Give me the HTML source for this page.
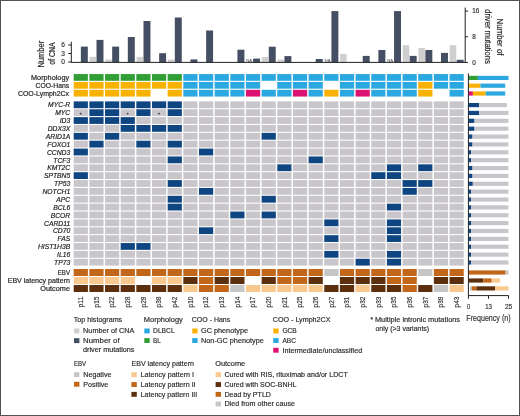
<!DOCTYPE html>
<html><head><meta charset="utf-8"><style>
html,body{margin:0;padding:0;background:#fff;}
body{width:520px;height:416px;overflow:hidden;}
#f{position:absolute;left:0;top:0;width:520px;height:416px;box-sizing:border-box;border:1px solid #535353;}
svg{position:absolute;left:0;top:0;font-family:"Liberation Sans", sans-serif;will-change:transform;}
text{stroke:#2b2b2b;stroke-width:0.16px;}
text.lb{stroke:#222;stroke-width:0.18px;}
</style></head><body>
<div id="f"></div>
<svg width="520" height="416" viewBox="0 0 520 416">
<rect x="80.85" y="46.60" width="6.95" height="15.80" fill="#444f63"/>
<rect x="89.56" y="56.80" width="6.50" height="5.60" fill="#cfcfcf"/>
<rect x="96.51" y="39.90" width="6.95" height="22.50" fill="#444f63"/>
<rect x="105.22" y="59.60" width="6.50" height="2.80" fill="#cfcfcf"/>
<rect x="112.17" y="46.60" width="6.95" height="15.80" fill="#444f63"/>
<rect x="127.83" y="37.00" width="6.95" height="25.40" fill="#444f63"/>
<rect x="136.54" y="56.80" width="6.50" height="5.60" fill="#cfcfcf"/>
<rect x="143.49" y="21.00" width="6.95" height="41.40" fill="#444f63"/>
<rect x="159.15" y="53.20" width="6.95" height="9.20" fill="#444f63"/>
<rect x="167.86" y="59.50" width="6.50" height="2.90" fill="#cfcfcf"/>
<rect x="174.81" y="17.50" width="6.95" height="44.90" fill="#444f63"/>
<rect x="190.47" y="59.40" width="6.95" height="3.00" fill="#444f63"/>
<rect x="206.13" y="30.50" width="6.95" height="31.90" fill="#444f63"/>
<rect x="237.45" y="49.70" width="6.95" height="12.70" fill="#444f63"/>
<rect x="253.11" y="58.60" width="6.95" height="3.80" fill="#444f63"/>
<text x="249.26" y="61.50" font-size="4.4" text-anchor="middle" fill="#444" textLength="6.00" lengthAdjust="spacingAndGlyphs"  style="stroke-width:0px">NA</text>
<rect x="261.82" y="57.00" width="6.50" height="5.40" fill="#cfcfcf"/>
<rect x="268.77" y="46.70" width="6.95" height="15.70" fill="#444f63"/>
<rect x="277.48" y="59.60" width="6.50" height="2.80" fill="#cfcfcf"/>
<rect x="284.43" y="56.10" width="6.95" height="6.30" fill="#444f63"/>
<rect x="315.75" y="59.00" width="6.95" height="3.40" fill="#444f63"/>
<rect x="331.41" y="11.10" width="6.95" height="51.30" fill="#444f63"/>
<text x="327.56" y="61.50" font-size="4.4" text-anchor="middle" fill="#444" textLength="6.00" lengthAdjust="spacingAndGlyphs"  style="stroke-width:0px">NA</text>
<rect x="340.12" y="54.00" width="6.50" height="8.40" fill="#cfcfcf"/>
<rect x="362.73" y="55.90" width="6.95" height="6.50" fill="#444f63"/>
<rect x="378.39" y="50.00" width="6.95" height="12.40" fill="#444f63"/>
<rect x="394.05" y="11.10" width="6.95" height="51.30" fill="#444f63"/>
<text x="390.20" y="61.50" font-size="4.4" text-anchor="middle" fill="#444" textLength="6.00" lengthAdjust="spacingAndGlyphs"  style="stroke-width:0px">NA</text>
<rect x="402.76" y="45.20" width="6.50" height="17.20" fill="#cfcfcf"/>
<rect x="409.71" y="55.90" width="6.95" height="6.50" fill="#444f63"/>
<rect x="418.42" y="47.90" width="6.50" height="14.50" fill="#cfcfcf"/>
<rect x="425.37" y="50.00" width="6.95" height="12.40" fill="#444f63"/>
<rect x="441.03" y="52.90" width="6.95" height="9.50" fill="#444f63"/>
<rect x="449.74" y="45.20" width="6.50" height="17.20" fill="#cfcfcf"/>
<rect x="456.69" y="59.80" width="6.95" height="2.60" fill="#444f63"/>
<g stroke="#222" stroke-width="1.0" fill="none">
<line x1="71.3" y1="62.4" x2="465.3" y2="62.4"/>
<line x1="71.3" y1="41.8" x2="71.3" y2="62.9"/>
<line x1="68.2" y1="62.00" x2="71.3" y2="62.00"/>
<line x1="68.2" y1="53.50" x2="71.3" y2="53.50"/>
<line x1="68.2" y1="45.00" x2="71.3" y2="45.00"/>
<line x1="465.2" y1="7.6" x2="465.2" y2="62.85"/>
<line x1="465.2" y1="62.40" x2="468.0" y2="62.40"/>
<line x1="465.2" y1="36.75" x2="468.0" y2="36.75"/>
<line x1="465.2" y1="11.10" x2="468.0" y2="11.10"/>
</g>
<text x="65.00" y="64.30" font-size="6.6" text-anchor="end" fill="#333"  >0</text>
<text x="65.00" y="55.80" font-size="6.6" text-anchor="end" fill="#333"  >3</text>
<text x="65.00" y="47.30" font-size="6.6" text-anchor="end" fill="#333"  >6</text>
<text x="472.20" y="64.70" font-size="6.4" text-anchor="start" fill="#333"  >0</text>
<text x="472.20" y="39.05" font-size="6.4" text-anchor="start" fill="#333"  >8</text>
<text x="472.20" y="13.40" font-size="6.4" text-anchor="start" fill="#333"  >16</text>
<text class="lb" transform="translate(44.3,54.2) rotate(-90)" font-size="9.3" text-anchor="middle" fill="#222" textLength="26.8" lengthAdjust="spacingAndGlyphs">Number</text>
<text class="lb" transform="translate(55.4,53.6) rotate(-90)" font-size="9.1" text-anchor="middle" fill="#222" textLength="22.1" lengthAdjust="spacingAndGlyphs">of CNA</text>
<text class="lb" transform="translate(496.5,37.0) rotate(90)" font-size="9.3" text-anchor="middle" fill="#222" textLength="37" lengthAdjust="spacingAndGlyphs">Number of</text>
<text class="lb" transform="translate(484.9,36.6) rotate(90)" font-size="9.3" text-anchor="middle" fill="#222" textLength="54.7" lengthAdjust="spacingAndGlyphs">driver mutations</text>
<rect x="73.70" y="74.05" width="14.20" height="6.75" fill="#319f36"/>
<rect x="89.36" y="74.05" width="14.20" height="6.75" fill="#319f36"/>
<rect x="105.02" y="74.05" width="14.20" height="6.75" fill="#319f36"/>
<rect x="120.68" y="74.05" width="14.20" height="6.75" fill="#319f36"/>
<rect x="136.34" y="74.05" width="14.20" height="6.75" fill="#319f36"/>
<rect x="152.00" y="74.05" width="14.20" height="6.75" fill="#319f36"/>
<rect x="167.66" y="74.05" width="14.20" height="6.75" fill="#319f36"/>
<rect x="183.32" y="74.05" width="14.20" height="6.75" fill="#2ba8df"/>
<rect x="198.98" y="74.05" width="14.20" height="6.75" fill="#2ba8df"/>
<rect x="214.64" y="74.05" width="14.20" height="6.75" fill="#2ba8df"/>
<rect x="230.30" y="74.05" width="14.20" height="6.75" fill="#2ba8df"/>
<rect x="245.96" y="74.05" width="14.20" height="6.75" fill="#2ba8df"/>
<rect x="261.62" y="74.05" width="14.20" height="6.75" fill="#2ba8df"/>
<rect x="277.28" y="74.05" width="14.20" height="6.75" fill="#2ba8df"/>
<rect x="292.94" y="74.05" width="14.20" height="6.75" fill="#2ba8df"/>
<rect x="308.60" y="74.05" width="14.20" height="6.75" fill="#2ba8df"/>
<rect x="324.26" y="74.05" width="14.20" height="6.75" fill="#2ba8df"/>
<rect x="339.92" y="74.05" width="14.20" height="6.75" fill="#2ba8df"/>
<rect x="355.58" y="74.05" width="14.20" height="6.75" fill="#2ba8df"/>
<rect x="371.24" y="74.05" width="14.20" height="6.75" fill="#2ba8df"/>
<rect x="386.90" y="74.05" width="14.20" height="6.75" fill="#2ba8df"/>
<rect x="402.56" y="74.05" width="14.20" height="6.75" fill="#2ba8df"/>
<rect x="418.22" y="74.05" width="14.20" height="6.75" fill="#2ba8df"/>
<rect x="433.88" y="74.05" width="14.20" height="6.75" fill="#2ba8df"/>
<rect x="449.54" y="74.05" width="14.20" height="6.75" fill="#2ba8df"/>
<rect x="73.70" y="81.93" width="14.20" height="6.75" fill="#f8b204"/>
<rect x="89.36" y="81.93" width="14.20" height="6.75" fill="#f8b204"/>
<rect x="105.02" y="81.93" width="14.20" height="6.75" fill="#f8b204"/>
<rect x="120.68" y="81.93" width="14.20" height="6.75" fill="#f8b204"/>
<rect x="136.34" y="81.93" width="14.20" height="6.75" fill="#f8b204"/>
<rect x="152.00" y="81.93" width="14.20" height="6.75" fill="#f8b204"/>
<rect x="167.66" y="81.93" width="14.20" height="6.75" fill="#f8b204"/>
<rect x="183.32" y="81.93" width="14.20" height="6.75" fill="#2ba8df"/>
<rect x="198.98" y="81.93" width="14.20" height="6.75" fill="#2ba8df"/>
<rect x="214.64" y="81.93" width="14.20" height="6.75" fill="#2ba8df"/>
<rect x="230.30" y="81.93" width="14.20" height="6.75" fill="#2ba8df"/>
<rect x="245.96" y="81.93" width="14.20" height="6.75" fill="#2ba8df"/>
<rect x="277.28" y="81.93" width="14.20" height="6.75" fill="#2ba8df"/>
<rect x="292.94" y="81.93" width="14.20" height="6.75" fill="#2ba8df"/>
<rect x="308.60" y="81.93" width="14.20" height="6.75" fill="#2ba8df"/>
<rect x="339.92" y="81.93" width="14.20" height="6.75" fill="#2ba8df"/>
<rect x="355.58" y="81.93" width="14.20" height="6.75" fill="#2ba8df"/>
<rect x="371.24" y="81.93" width="14.20" height="6.75" fill="#2ba8df"/>
<rect x="386.90" y="81.93" width="14.20" height="6.75" fill="#2ba8df"/>
<rect x="402.56" y="81.93" width="14.20" height="6.75" fill="#2ba8df"/>
<rect x="418.22" y="81.93" width="14.20" height="6.75" fill="#f8b204"/>
<rect x="433.88" y="81.93" width="14.20" height="6.75" fill="#2ba8df"/>
<rect x="449.54" y="81.93" width="14.20" height="6.75" fill="#2ba8df"/>
<rect x="73.70" y="89.81" width="14.20" height="6.75" fill="#f8b204"/>
<rect x="89.36" y="89.81" width="14.20" height="6.75" fill="#f8b204"/>
<rect x="105.02" y="89.81" width="14.20" height="6.75" fill="#f8b204"/>
<rect x="120.68" y="89.81" width="14.20" height="6.75" fill="#f8b204"/>
<rect x="136.34" y="89.81" width="14.20" height="6.75" fill="#f8b204"/>
<rect x="167.66" y="89.81" width="14.20" height="6.75" fill="#f8b204"/>
<rect x="183.32" y="89.81" width="14.20" height="6.75" fill="#2ba8df"/>
<rect x="198.98" y="89.81" width="14.20" height="6.75" fill="#2ba8df"/>
<rect x="214.64" y="89.81" width="14.20" height="6.75" fill="#2ba8df"/>
<rect x="230.30" y="89.81" width="14.20" height="6.75" fill="#2ba8df"/>
<rect x="245.96" y="89.81" width="14.20" height="6.75" fill="#db1274"/>
<rect x="261.62" y="89.81" width="14.20" height="6.75" fill="#2ba8df"/>
<rect x="277.28" y="89.81" width="14.20" height="6.75" fill="#2ba8df"/>
<rect x="292.94" y="89.81" width="14.20" height="6.75" fill="#db1274"/>
<rect x="308.60" y="89.81" width="14.20" height="6.75" fill="#2ba8df"/>
<rect x="324.26" y="89.81" width="14.20" height="6.75" fill="#f8b204"/>
<rect x="339.92" y="89.81" width="14.20" height="6.75" fill="#2ba8df"/>
<rect x="355.58" y="89.81" width="14.20" height="6.75" fill="#db1274"/>
<rect x="371.24" y="89.81" width="14.20" height="6.75" fill="#2ba8df"/>
<rect x="386.90" y="89.81" width="14.20" height="6.75" fill="#2ba8df"/>
<rect x="402.56" y="89.81" width="14.20" height="6.75" fill="#2ba8df"/>
<rect x="418.22" y="89.81" width="14.20" height="6.75" fill="#f8b204"/>
<rect x="449.54" y="89.81" width="14.20" height="6.75" fill="#2ba8df"/>
<text x="69.10" y="80.25" font-size="6.9" text-anchor="end" fill="#222" textLength="38.10" lengthAdjust="spacingAndGlyphs" class="lb" >Morphology</text>
<text x="69.10" y="88.13" font-size="6.9" text-anchor="end" fill="#222" textLength="33.50" lengthAdjust="spacingAndGlyphs" class="lb" >COO-Hans</text>
<text x="69.10" y="96.01" font-size="6.9" text-anchor="end" fill="#222" textLength="51.20" lengthAdjust="spacingAndGlyphs" class="lb" >COO-Lymph2Cx</text>
<rect x="73.70" y="101.38" width="14.20" height="6.80" fill="#0f4682"/>
<rect x="89.36" y="101.38" width="14.20" height="6.80" fill="#0f4682"/>
<rect x="105.02" y="101.38" width="14.20" height="6.80" fill="#0f4682"/>
<rect x="120.68" y="101.38" width="14.20" height="6.80" fill="#0f4682"/>
<rect x="136.34" y="101.38" width="14.20" height="6.80" fill="#0f4682"/>
<rect x="152.00" y="101.38" width="14.20" height="6.80" fill="#0f4682"/>
<rect x="167.66" y="101.38" width="14.20" height="6.80" fill="#0f4682"/>
<rect x="183.32" y="101.38" width="14.20" height="6.80" fill="#c8c6cb"/>
<rect x="198.98" y="101.38" width="14.20" height="6.80" fill="#c8c6cb"/>
<rect x="214.64" y="101.38" width="14.20" height="6.80" fill="#c8c6cb"/>
<rect x="230.30" y="101.38" width="14.20" height="6.80" fill="#c8c6cb"/>
<rect x="245.96" y="101.38" width="14.20" height="6.80" fill="#c8c6cb"/>
<rect x="261.62" y="101.38" width="14.20" height="6.80" fill="#c8c6cb"/>
<rect x="277.28" y="101.38" width="14.20" height="6.80" fill="#c8c6cb"/>
<rect x="292.94" y="101.38" width="14.20" height="6.80" fill="#c8c6cb"/>
<rect x="308.60" y="101.38" width="14.20" height="6.80" fill="#c8c6cb"/>
<rect x="324.26" y="101.38" width="14.20" height="6.80" fill="#c8c6cb"/>
<rect x="339.92" y="101.38" width="14.20" height="6.80" fill="#c8c6cb"/>
<rect x="355.58" y="101.38" width="14.20" height="6.80" fill="#c8c6cb"/>
<rect x="371.24" y="101.38" width="14.20" height="6.80" fill="#c8c6cb"/>
<rect x="386.90" y="101.38" width="14.20" height="6.80" fill="#c8c6cb"/>
<rect x="402.56" y="101.38" width="14.20" height="6.80" fill="#c8c6cb"/>
<rect x="418.22" y="101.38" width="14.20" height="6.80" fill="#c8c6cb"/>
<rect x="433.88" y="101.38" width="14.20" height="6.80" fill="#c8c6cb"/>
<rect x="449.54" y="101.38" width="14.20" height="6.80" fill="#c8c6cb"/>
<text x="70.20" y="107.48" font-size="6.75" text-anchor="end" fill="#222" font-style="italic" class="lb" >MYC-R</text>
<rect x="73.70" y="109.25" width="14.20" height="6.80" fill="#c8c6cb"/>
<rect x="89.36" y="109.25" width="14.20" height="6.80" fill="#0f4682"/>
<rect x="105.02" y="109.25" width="14.20" height="6.80" fill="#0f4682"/>
<rect x="120.68" y="109.25" width="14.20" height="6.80" fill="#c8c6cb"/>
<rect x="136.34" y="109.25" width="14.20" height="6.80" fill="#0f4682"/>
<rect x="152.00" y="109.25" width="14.20" height="6.80" fill="#c8c6cb"/>
<rect x="167.66" y="109.25" width="14.20" height="6.80" fill="#0f4682"/>
<rect x="183.32" y="109.25" width="14.20" height="6.80" fill="#c8c6cb"/>
<rect x="198.98" y="109.25" width="14.20" height="6.80" fill="#c8c6cb"/>
<rect x="214.64" y="109.25" width="14.20" height="6.80" fill="#c8c6cb"/>
<rect x="230.30" y="109.25" width="14.20" height="6.80" fill="#c8c6cb"/>
<rect x="245.96" y="109.25" width="14.20" height="6.80" fill="#c8c6cb"/>
<rect x="261.62" y="109.25" width="14.20" height="6.80" fill="#c8c6cb"/>
<rect x="277.28" y="109.25" width="14.20" height="6.80" fill="#c8c6cb"/>
<rect x="292.94" y="109.25" width="14.20" height="6.80" fill="#c8c6cb"/>
<rect x="308.60" y="109.25" width="14.20" height="6.80" fill="#c8c6cb"/>
<rect x="324.26" y="109.25" width="14.20" height="6.80" fill="#c8c6cb"/>
<rect x="339.92" y="109.25" width="14.20" height="6.80" fill="#c8c6cb"/>
<rect x="355.58" y="109.25" width="14.20" height="6.80" fill="#c8c6cb"/>
<rect x="371.24" y="109.25" width="14.20" height="6.80" fill="#c8c6cb"/>
<rect x="386.90" y="109.25" width="14.20" height="6.80" fill="#c8c6cb"/>
<rect x="402.56" y="109.25" width="14.20" height="6.80" fill="#c8c6cb"/>
<rect x="418.22" y="109.25" width="14.20" height="6.80" fill="#c8c6cb"/>
<rect x="433.88" y="109.25" width="14.20" height="6.80" fill="#c8c6cb"/>
<rect x="449.54" y="109.25" width="14.20" height="6.80" fill="#c8c6cb"/>
<circle cx="80.70" cy="113.55" r="0.9" fill="#3a3a3a"/>
<circle cx="127.68" cy="113.55" r="0.9" fill="#3a3a3a"/>
<circle cx="159.00" cy="113.55" r="0.9" fill="#3a3a3a"/>
<text x="70.20" y="115.35" font-size="6.75" text-anchor="end" fill="#222" font-style="italic" class="lb" >MYC</text>
<rect x="73.70" y="117.12" width="14.20" height="6.80" fill="#0f4682"/>
<rect x="89.36" y="117.12" width="14.20" height="6.80" fill="#0f4682"/>
<rect x="105.02" y="117.12" width="14.20" height="6.80" fill="#0f4682"/>
<rect x="120.68" y="117.12" width="14.20" height="6.80" fill="#0f4682"/>
<rect x="136.34" y="117.12" width="14.20" height="6.80" fill="#c8c6cb"/>
<rect x="152.00" y="117.12" width="14.20" height="6.80" fill="#c8c6cb"/>
<rect x="167.66" y="117.12" width="14.20" height="6.80" fill="#c8c6cb"/>
<rect x="183.32" y="117.12" width="14.20" height="6.80" fill="#c8c6cb"/>
<rect x="198.98" y="117.12" width="14.20" height="6.80" fill="#c8c6cb"/>
<rect x="214.64" y="117.12" width="14.20" height="6.80" fill="#c8c6cb"/>
<rect x="230.30" y="117.12" width="14.20" height="6.80" fill="#c8c6cb"/>
<rect x="245.96" y="117.12" width="14.20" height="6.80" fill="#c8c6cb"/>
<rect x="261.62" y="117.12" width="14.20" height="6.80" fill="#c8c6cb"/>
<rect x="277.28" y="117.12" width="14.20" height="6.80" fill="#c8c6cb"/>
<rect x="292.94" y="117.12" width="14.20" height="6.80" fill="#c8c6cb"/>
<rect x="308.60" y="117.12" width="14.20" height="6.80" fill="#c8c6cb"/>
<rect x="324.26" y="117.12" width="14.20" height="6.80" fill="#c8c6cb"/>
<rect x="339.92" y="117.12" width="14.20" height="6.80" fill="#c8c6cb"/>
<rect x="355.58" y="117.12" width="14.20" height="6.80" fill="#c8c6cb"/>
<rect x="371.24" y="117.12" width="14.20" height="6.80" fill="#c8c6cb"/>
<rect x="386.90" y="117.12" width="14.20" height="6.80" fill="#c8c6cb"/>
<rect x="402.56" y="117.12" width="14.20" height="6.80" fill="#c8c6cb"/>
<rect x="418.22" y="117.12" width="14.20" height="6.80" fill="#c8c6cb"/>
<rect x="433.88" y="117.12" width="14.20" height="6.80" fill="#c8c6cb"/>
<rect x="449.54" y="117.12" width="14.20" height="6.80" fill="#c8c6cb"/>
<text x="70.20" y="123.22" font-size="6.75" text-anchor="end" fill="#222" font-style="italic" class="lb" >ID3</text>
<rect x="73.70" y="124.99" width="14.20" height="6.80" fill="#c8c6cb"/>
<rect x="89.36" y="124.99" width="14.20" height="6.80" fill="#c8c6cb"/>
<rect x="105.02" y="124.99" width="14.20" height="6.80" fill="#c8c6cb"/>
<rect x="120.68" y="124.99" width="14.20" height="6.80" fill="#0f4682"/>
<rect x="136.34" y="124.99" width="14.20" height="6.80" fill="#0f4682"/>
<rect x="152.00" y="124.99" width="14.20" height="6.80" fill="#0f4682"/>
<rect x="167.66" y="124.99" width="14.20" height="6.80" fill="#0f4682"/>
<rect x="183.32" y="124.99" width="14.20" height="6.80" fill="#c8c6cb"/>
<rect x="198.98" y="124.99" width="14.20" height="6.80" fill="#c8c6cb"/>
<rect x="214.64" y="124.99" width="14.20" height="6.80" fill="#c8c6cb"/>
<rect x="230.30" y="124.99" width="14.20" height="6.80" fill="#c8c6cb"/>
<rect x="245.96" y="124.99" width="14.20" height="6.80" fill="#c8c6cb"/>
<rect x="261.62" y="124.99" width="14.20" height="6.80" fill="#c8c6cb"/>
<rect x="277.28" y="124.99" width="14.20" height="6.80" fill="#c8c6cb"/>
<rect x="292.94" y="124.99" width="14.20" height="6.80" fill="#c8c6cb"/>
<rect x="308.60" y="124.99" width="14.20" height="6.80" fill="#c8c6cb"/>
<rect x="324.26" y="124.99" width="14.20" height="6.80" fill="#c8c6cb"/>
<rect x="339.92" y="124.99" width="14.20" height="6.80" fill="#c8c6cb"/>
<rect x="355.58" y="124.99" width="14.20" height="6.80" fill="#c8c6cb"/>
<rect x="371.24" y="124.99" width="14.20" height="6.80" fill="#c8c6cb"/>
<rect x="386.90" y="124.99" width="14.20" height="6.80" fill="#c8c6cb"/>
<rect x="402.56" y="124.99" width="14.20" height="6.80" fill="#c8c6cb"/>
<rect x="418.22" y="124.99" width="14.20" height="6.80" fill="#c8c6cb"/>
<rect x="433.88" y="124.99" width="14.20" height="6.80" fill="#c8c6cb"/>
<rect x="449.54" y="124.99" width="14.20" height="6.80" fill="#c8c6cb"/>
<text x="70.20" y="131.09" font-size="6.75" text-anchor="end" fill="#222" font-style="italic" class="lb" >DDX3X</text>
<rect x="73.70" y="132.86" width="14.20" height="6.80" fill="#0f4682"/>
<rect x="89.36" y="132.86" width="14.20" height="6.80" fill="#c8c6cb"/>
<rect x="105.02" y="132.86" width="14.20" height="6.80" fill="#0f4682"/>
<rect x="120.68" y="132.86" width="14.20" height="6.80" fill="#c8c6cb"/>
<rect x="136.34" y="132.86" width="14.20" height="6.80" fill="#c8c6cb"/>
<rect x="152.00" y="132.86" width="14.20" height="6.80" fill="#c8c6cb"/>
<rect x="167.66" y="132.86" width="14.20" height="6.80" fill="#c8c6cb"/>
<rect x="183.32" y="132.86" width="14.20" height="6.80" fill="#c8c6cb"/>
<rect x="198.98" y="132.86" width="14.20" height="6.80" fill="#c8c6cb"/>
<rect x="214.64" y="132.86" width="14.20" height="6.80" fill="#c8c6cb"/>
<rect x="230.30" y="132.86" width="14.20" height="6.80" fill="#c8c6cb"/>
<rect x="245.96" y="132.86" width="14.20" height="6.80" fill="#c8c6cb"/>
<rect x="261.62" y="132.86" width="14.20" height="6.80" fill="#0f4682"/>
<rect x="277.28" y="132.86" width="14.20" height="6.80" fill="#c8c6cb"/>
<rect x="292.94" y="132.86" width="14.20" height="6.80" fill="#c8c6cb"/>
<rect x="308.60" y="132.86" width="14.20" height="6.80" fill="#c8c6cb"/>
<rect x="324.26" y="132.86" width="14.20" height="6.80" fill="#c8c6cb"/>
<rect x="339.92" y="132.86" width="14.20" height="6.80" fill="#c8c6cb"/>
<rect x="355.58" y="132.86" width="14.20" height="6.80" fill="#c8c6cb"/>
<rect x="371.24" y="132.86" width="14.20" height="6.80" fill="#c8c6cb"/>
<rect x="386.90" y="132.86" width="14.20" height="6.80" fill="#c8c6cb"/>
<rect x="402.56" y="132.86" width="14.20" height="6.80" fill="#c8c6cb"/>
<rect x="418.22" y="132.86" width="14.20" height="6.80" fill="#c8c6cb"/>
<rect x="433.88" y="132.86" width="14.20" height="6.80" fill="#c8c6cb"/>
<rect x="449.54" y="132.86" width="14.20" height="6.80" fill="#c8c6cb"/>
<text x="70.20" y="138.96" font-size="6.75" text-anchor="end" fill="#222" font-style="italic" class="lb" >ARID1A</text>
<rect x="73.70" y="140.73" width="14.20" height="6.80" fill="#c8c6cb"/>
<rect x="89.36" y="140.73" width="14.20" height="6.80" fill="#0f4682"/>
<rect x="105.02" y="140.73" width="14.20" height="6.80" fill="#c8c6cb"/>
<rect x="120.68" y="140.73" width="14.20" height="6.80" fill="#c8c6cb"/>
<rect x="136.34" y="140.73" width="14.20" height="6.80" fill="#0f4682"/>
<rect x="152.00" y="140.73" width="14.20" height="6.80" fill="#c8c6cb"/>
<rect x="167.66" y="140.73" width="14.20" height="6.80" fill="#0f4682"/>
<rect x="183.32" y="140.73" width="14.20" height="6.80" fill="#c8c6cb"/>
<rect x="198.98" y="140.73" width="14.20" height="6.80" fill="#c8c6cb"/>
<rect x="214.64" y="140.73" width="14.20" height="6.80" fill="#c8c6cb"/>
<rect x="230.30" y="140.73" width="14.20" height="6.80" fill="#c8c6cb"/>
<rect x="245.96" y="140.73" width="14.20" height="6.80" fill="#c8c6cb"/>
<rect x="261.62" y="140.73" width="14.20" height="6.80" fill="#c8c6cb"/>
<rect x="277.28" y="140.73" width="14.20" height="6.80" fill="#c8c6cb"/>
<rect x="292.94" y="140.73" width="14.20" height="6.80" fill="#c8c6cb"/>
<rect x="308.60" y="140.73" width="14.20" height="6.80" fill="#c8c6cb"/>
<rect x="324.26" y="140.73" width="14.20" height="6.80" fill="#c8c6cb"/>
<rect x="339.92" y="140.73" width="14.20" height="6.80" fill="#c8c6cb"/>
<rect x="355.58" y="140.73" width="14.20" height="6.80" fill="#c8c6cb"/>
<rect x="371.24" y="140.73" width="14.20" height="6.80" fill="#c8c6cb"/>
<rect x="386.90" y="140.73" width="14.20" height="6.80" fill="#c8c6cb"/>
<rect x="402.56" y="140.73" width="14.20" height="6.80" fill="#c8c6cb"/>
<rect x="418.22" y="140.73" width="14.20" height="6.80" fill="#c8c6cb"/>
<rect x="433.88" y="140.73" width="14.20" height="6.80" fill="#c8c6cb"/>
<rect x="449.54" y="140.73" width="14.20" height="6.80" fill="#c8c6cb"/>
<text x="70.20" y="146.83" font-size="6.75" text-anchor="end" fill="#222" font-style="italic" class="lb" >FOXO1</text>
<rect x="73.70" y="148.60" width="14.20" height="6.80" fill="#0f4682"/>
<rect x="89.36" y="148.60" width="14.20" height="6.80" fill="#c8c6cb"/>
<rect x="105.02" y="148.60" width="14.20" height="6.80" fill="#c8c6cb"/>
<rect x="120.68" y="148.60" width="14.20" height="6.80" fill="#c8c6cb"/>
<rect x="136.34" y="148.60" width="14.20" height="6.80" fill="#c8c6cb"/>
<rect x="152.00" y="148.60" width="14.20" height="6.80" fill="#c8c6cb"/>
<rect x="167.66" y="148.60" width="14.20" height="6.80" fill="#c8c6cb"/>
<rect x="183.32" y="148.60" width="14.20" height="6.80" fill="#c8c6cb"/>
<rect x="198.98" y="148.60" width="14.20" height="6.80" fill="#0f4682"/>
<rect x="214.64" y="148.60" width="14.20" height="6.80" fill="#c8c6cb"/>
<rect x="230.30" y="148.60" width="14.20" height="6.80" fill="#c8c6cb"/>
<rect x="245.96" y="148.60" width="14.20" height="6.80" fill="#c8c6cb"/>
<rect x="261.62" y="148.60" width="14.20" height="6.80" fill="#c8c6cb"/>
<rect x="277.28" y="148.60" width="14.20" height="6.80" fill="#c8c6cb"/>
<rect x="292.94" y="148.60" width="14.20" height="6.80" fill="#c8c6cb"/>
<rect x="308.60" y="148.60" width="14.20" height="6.80" fill="#c8c6cb"/>
<rect x="324.26" y="148.60" width="14.20" height="6.80" fill="#c8c6cb"/>
<rect x="339.92" y="148.60" width="14.20" height="6.80" fill="#c8c6cb"/>
<rect x="355.58" y="148.60" width="14.20" height="6.80" fill="#c8c6cb"/>
<rect x="371.24" y="148.60" width="14.20" height="6.80" fill="#c8c6cb"/>
<rect x="386.90" y="148.60" width="14.20" height="6.80" fill="#c8c6cb"/>
<rect x="402.56" y="148.60" width="14.20" height="6.80" fill="#c8c6cb"/>
<rect x="418.22" y="148.60" width="14.20" height="6.80" fill="#c8c6cb"/>
<rect x="433.88" y="148.60" width="14.20" height="6.80" fill="#c8c6cb"/>
<rect x="449.54" y="148.60" width="14.20" height="6.80" fill="#c8c6cb"/>
<text x="70.20" y="154.70" font-size="6.75" text-anchor="end" fill="#222" font-style="italic" class="lb" >CCND3</text>
<rect x="73.70" y="156.47" width="14.20" height="6.80" fill="#c8c6cb"/>
<rect x="89.36" y="156.47" width="14.20" height="6.80" fill="#c8c6cb"/>
<rect x="105.02" y="156.47" width="14.20" height="6.80" fill="#c8c6cb"/>
<rect x="120.68" y="156.47" width="14.20" height="6.80" fill="#c8c6cb"/>
<rect x="136.34" y="156.47" width="14.20" height="6.80" fill="#c8c6cb"/>
<rect x="152.00" y="156.47" width="14.20" height="6.80" fill="#c8c6cb"/>
<rect x="167.66" y="156.47" width="14.20" height="6.80" fill="#0f4682"/>
<rect x="183.32" y="156.47" width="14.20" height="6.80" fill="#c8c6cb"/>
<rect x="198.98" y="156.47" width="14.20" height="6.80" fill="#c8c6cb"/>
<rect x="214.64" y="156.47" width="14.20" height="6.80" fill="#c8c6cb"/>
<rect x="230.30" y="156.47" width="14.20" height="6.80" fill="#c8c6cb"/>
<rect x="245.96" y="156.47" width="14.20" height="6.80" fill="#c8c6cb"/>
<rect x="261.62" y="156.47" width="14.20" height="6.80" fill="#c8c6cb"/>
<rect x="277.28" y="156.47" width="14.20" height="6.80" fill="#c8c6cb"/>
<rect x="292.94" y="156.47" width="14.20" height="6.80" fill="#c8c6cb"/>
<rect x="308.60" y="156.47" width="14.20" height="6.80" fill="#0f4682"/>
<rect x="324.26" y="156.47" width="14.20" height="6.80" fill="#c8c6cb"/>
<rect x="339.92" y="156.47" width="14.20" height="6.80" fill="#c8c6cb"/>
<rect x="355.58" y="156.47" width="14.20" height="6.80" fill="#c8c6cb"/>
<rect x="371.24" y="156.47" width="14.20" height="6.80" fill="#c8c6cb"/>
<rect x="386.90" y="156.47" width="14.20" height="6.80" fill="#c8c6cb"/>
<rect x="402.56" y="156.47" width="14.20" height="6.80" fill="#c8c6cb"/>
<rect x="418.22" y="156.47" width="14.20" height="6.80" fill="#c8c6cb"/>
<rect x="433.88" y="156.47" width="14.20" height="6.80" fill="#c8c6cb"/>
<rect x="449.54" y="156.47" width="14.20" height="6.80" fill="#c8c6cb"/>
<text x="70.20" y="162.57" font-size="6.75" text-anchor="end" fill="#222" font-style="italic" class="lb" >TCF3</text>
<rect x="73.70" y="164.34" width="14.20" height="6.80" fill="#c8c6cb"/>
<rect x="89.36" y="164.34" width="14.20" height="6.80" fill="#c8c6cb"/>
<rect x="105.02" y="164.34" width="14.20" height="6.80" fill="#c8c6cb"/>
<rect x="120.68" y="164.34" width="14.20" height="6.80" fill="#c8c6cb"/>
<rect x="136.34" y="164.34" width="14.20" height="6.80" fill="#c8c6cb"/>
<rect x="152.00" y="164.34" width="14.20" height="6.80" fill="#c8c6cb"/>
<rect x="167.66" y="164.34" width="14.20" height="6.80" fill="#c8c6cb"/>
<rect x="183.32" y="164.34" width="14.20" height="6.80" fill="#c8c6cb"/>
<rect x="198.98" y="164.34" width="14.20" height="6.80" fill="#c8c6cb"/>
<rect x="214.64" y="164.34" width="14.20" height="6.80" fill="#c8c6cb"/>
<rect x="230.30" y="164.34" width="14.20" height="6.80" fill="#c8c6cb"/>
<rect x="245.96" y="164.34" width="14.20" height="6.80" fill="#c8c6cb"/>
<rect x="261.62" y="164.34" width="14.20" height="6.80" fill="#c8c6cb"/>
<rect x="277.28" y="164.34" width="14.20" height="6.80" fill="#0f4682"/>
<rect x="292.94" y="164.34" width="14.20" height="6.80" fill="#c8c6cb"/>
<rect x="308.60" y="164.34" width="14.20" height="6.80" fill="#c8c6cb"/>
<rect x="324.26" y="164.34" width="14.20" height="6.80" fill="#c8c6cb"/>
<rect x="339.92" y="164.34" width="14.20" height="6.80" fill="#c8c6cb"/>
<rect x="355.58" y="164.34" width="14.20" height="6.80" fill="#c8c6cb"/>
<rect x="371.24" y="164.34" width="14.20" height="6.80" fill="#c8c6cb"/>
<rect x="386.90" y="164.34" width="14.20" height="6.80" fill="#0f4682"/>
<rect x="402.56" y="164.34" width="14.20" height="6.80" fill="#c8c6cb"/>
<rect x="418.22" y="164.34" width="14.20" height="6.80" fill="#0f4682"/>
<rect x="433.88" y="164.34" width="14.20" height="6.80" fill="#c8c6cb"/>
<rect x="449.54" y="164.34" width="14.20" height="6.80" fill="#c8c6cb"/>
<text x="70.20" y="170.44" font-size="6.75" text-anchor="end" fill="#222" font-style="italic" class="lb" >KMT2C</text>
<rect x="73.70" y="172.21" width="14.20" height="6.80" fill="#0f4682"/>
<rect x="89.36" y="172.21" width="14.20" height="6.80" fill="#c8c6cb"/>
<rect x="105.02" y="172.21" width="14.20" height="6.80" fill="#c8c6cb"/>
<rect x="120.68" y="172.21" width="14.20" height="6.80" fill="#c8c6cb"/>
<rect x="136.34" y="172.21" width="14.20" height="6.80" fill="#c8c6cb"/>
<rect x="152.00" y="172.21" width="14.20" height="6.80" fill="#c8c6cb"/>
<rect x="167.66" y="172.21" width="14.20" height="6.80" fill="#c8c6cb"/>
<rect x="183.32" y="172.21" width="14.20" height="6.80" fill="#c8c6cb"/>
<rect x="198.98" y="172.21" width="14.20" height="6.80" fill="#c8c6cb"/>
<rect x="214.64" y="172.21" width="14.20" height="6.80" fill="#c8c6cb"/>
<rect x="230.30" y="172.21" width="14.20" height="6.80" fill="#c8c6cb"/>
<rect x="245.96" y="172.21" width="14.20" height="6.80" fill="#c8c6cb"/>
<rect x="261.62" y="172.21" width="14.20" height="6.80" fill="#c8c6cb"/>
<rect x="277.28" y="172.21" width="14.20" height="6.80" fill="#c8c6cb"/>
<rect x="292.94" y="172.21" width="14.20" height="6.80" fill="#c8c6cb"/>
<rect x="308.60" y="172.21" width="14.20" height="6.80" fill="#c8c6cb"/>
<rect x="324.26" y="172.21" width="14.20" height="6.80" fill="#c8c6cb"/>
<rect x="339.92" y="172.21" width="14.20" height="6.80" fill="#c8c6cb"/>
<rect x="355.58" y="172.21" width="14.20" height="6.80" fill="#c8c6cb"/>
<rect x="371.24" y="172.21" width="14.20" height="6.80" fill="#0f4682"/>
<rect x="386.90" y="172.21" width="14.20" height="6.80" fill="#0f4682"/>
<rect x="402.56" y="172.21" width="14.20" height="6.80" fill="#c8c6cb"/>
<rect x="418.22" y="172.21" width="14.20" height="6.80" fill="#c8c6cb"/>
<rect x="433.88" y="172.21" width="14.20" height="6.80" fill="#c8c6cb"/>
<rect x="449.54" y="172.21" width="14.20" height="6.80" fill="#c8c6cb"/>
<text x="70.20" y="178.31" font-size="6.75" text-anchor="end" fill="#222" font-style="italic" class="lb" >SPTBN5</text>
<rect x="73.70" y="180.08" width="14.20" height="6.80" fill="#c8c6cb"/>
<rect x="89.36" y="180.08" width="14.20" height="6.80" fill="#c8c6cb"/>
<rect x="105.02" y="180.08" width="14.20" height="6.80" fill="#c8c6cb"/>
<rect x="120.68" y="180.08" width="14.20" height="6.80" fill="#c8c6cb"/>
<rect x="136.34" y="180.08" width="14.20" height="6.80" fill="#c8c6cb"/>
<rect x="152.00" y="180.08" width="14.20" height="6.80" fill="#c8c6cb"/>
<rect x="167.66" y="180.08" width="14.20" height="6.80" fill="#0f4682"/>
<rect x="183.32" y="180.08" width="14.20" height="6.80" fill="#c8c6cb"/>
<rect x="198.98" y="180.08" width="14.20" height="6.80" fill="#c8c6cb"/>
<rect x="214.64" y="180.08" width="14.20" height="6.80" fill="#c8c6cb"/>
<rect x="230.30" y="180.08" width="14.20" height="6.80" fill="#c8c6cb"/>
<rect x="245.96" y="180.08" width="14.20" height="6.80" fill="#c8c6cb"/>
<rect x="261.62" y="180.08" width="14.20" height="6.80" fill="#c8c6cb"/>
<rect x="277.28" y="180.08" width="14.20" height="6.80" fill="#c8c6cb"/>
<rect x="292.94" y="180.08" width="14.20" height="6.80" fill="#c8c6cb"/>
<rect x="308.60" y="180.08" width="14.20" height="6.80" fill="#c8c6cb"/>
<rect x="324.26" y="180.08" width="14.20" height="6.80" fill="#c8c6cb"/>
<rect x="339.92" y="180.08" width="14.20" height="6.80" fill="#c8c6cb"/>
<rect x="355.58" y="180.08" width="14.20" height="6.80" fill="#c8c6cb"/>
<rect x="371.24" y="180.08" width="14.20" height="6.80" fill="#c8c6cb"/>
<rect x="386.90" y="180.08" width="14.20" height="6.80" fill="#c8c6cb"/>
<rect x="402.56" y="180.08" width="14.20" height="6.80" fill="#0f4682"/>
<rect x="418.22" y="180.08" width="14.20" height="6.80" fill="#0f4682"/>
<rect x="433.88" y="180.08" width="14.20" height="6.80" fill="#c8c6cb"/>
<rect x="449.54" y="180.08" width="14.20" height="6.80" fill="#c8c6cb"/>
<text x="70.20" y="186.18" font-size="6.75" text-anchor="end" fill="#222" font-style="italic" class="lb" >TP53</text>
<rect x="73.70" y="187.95" width="14.20" height="6.80" fill="#c8c6cb"/>
<rect x="89.36" y="187.95" width="14.20" height="6.80" fill="#c8c6cb"/>
<rect x="105.02" y="187.95" width="14.20" height="6.80" fill="#c8c6cb"/>
<rect x="120.68" y="187.95" width="14.20" height="6.80" fill="#c8c6cb"/>
<rect x="136.34" y="187.95" width="14.20" height="6.80" fill="#c8c6cb"/>
<rect x="152.00" y="187.95" width="14.20" height="6.80" fill="#c8c6cb"/>
<rect x="167.66" y="187.95" width="14.20" height="6.80" fill="#c8c6cb"/>
<rect x="183.32" y="187.95" width="14.20" height="6.80" fill="#c8c6cb"/>
<rect x="198.98" y="187.95" width="14.20" height="6.80" fill="#0f4682"/>
<rect x="214.64" y="187.95" width="14.20" height="6.80" fill="#c8c6cb"/>
<rect x="230.30" y="187.95" width="14.20" height="6.80" fill="#c8c6cb"/>
<rect x="245.96" y="187.95" width="14.20" height="6.80" fill="#c8c6cb"/>
<rect x="261.62" y="187.95" width="14.20" height="6.80" fill="#c8c6cb"/>
<rect x="277.28" y="187.95" width="14.20" height="6.80" fill="#c8c6cb"/>
<rect x="292.94" y="187.95" width="14.20" height="6.80" fill="#c8c6cb"/>
<rect x="308.60" y="187.95" width="14.20" height="6.80" fill="#c8c6cb"/>
<rect x="324.26" y="187.95" width="14.20" height="6.80" fill="#c8c6cb"/>
<rect x="339.92" y="187.95" width="14.20" height="6.80" fill="#c8c6cb"/>
<rect x="355.58" y="187.95" width="14.20" height="6.80" fill="#c8c6cb"/>
<rect x="371.24" y="187.95" width="14.20" height="6.80" fill="#c8c6cb"/>
<rect x="386.90" y="187.95" width="14.20" height="6.80" fill="#c8c6cb"/>
<rect x="402.56" y="187.95" width="14.20" height="6.80" fill="#0f4682"/>
<rect x="418.22" y="187.95" width="14.20" height="6.80" fill="#c8c6cb"/>
<rect x="433.88" y="187.95" width="14.20" height="6.80" fill="#c8c6cb"/>
<rect x="449.54" y="187.95" width="14.20" height="6.80" fill="#c8c6cb"/>
<text x="70.20" y="194.05" font-size="6.75" text-anchor="end" fill="#222" font-style="italic" class="lb" >NOTCH1</text>
<rect x="73.70" y="195.82" width="14.20" height="6.80" fill="#c8c6cb"/>
<rect x="89.36" y="195.82" width="14.20" height="6.80" fill="#c8c6cb"/>
<rect x="105.02" y="195.82" width="14.20" height="6.80" fill="#c8c6cb"/>
<rect x="120.68" y="195.82" width="14.20" height="6.80" fill="#c8c6cb"/>
<rect x="136.34" y="195.82" width="14.20" height="6.80" fill="#c8c6cb"/>
<rect x="152.00" y="195.82" width="14.20" height="6.80" fill="#c8c6cb"/>
<rect x="167.66" y="195.82" width="14.20" height="6.80" fill="#0f4682"/>
<rect x="183.32" y="195.82" width="14.20" height="6.80" fill="#c8c6cb"/>
<rect x="198.98" y="195.82" width="14.20" height="6.80" fill="#c8c6cb"/>
<rect x="214.64" y="195.82" width="14.20" height="6.80" fill="#c8c6cb"/>
<rect x="230.30" y="195.82" width="14.20" height="6.80" fill="#c8c6cb"/>
<rect x="245.96" y="195.82" width="14.20" height="6.80" fill="#c8c6cb"/>
<rect x="261.62" y="195.82" width="14.20" height="6.80" fill="#0f4682"/>
<rect x="277.28" y="195.82" width="14.20" height="6.80" fill="#c8c6cb"/>
<rect x="292.94" y="195.82" width="14.20" height="6.80" fill="#c8c6cb"/>
<rect x="308.60" y="195.82" width="14.20" height="6.80" fill="#c8c6cb"/>
<rect x="324.26" y="195.82" width="14.20" height="6.80" fill="#c8c6cb"/>
<rect x="339.92" y="195.82" width="14.20" height="6.80" fill="#c8c6cb"/>
<rect x="355.58" y="195.82" width="14.20" height="6.80" fill="#c8c6cb"/>
<rect x="371.24" y="195.82" width="14.20" height="6.80" fill="#c8c6cb"/>
<rect x="386.90" y="195.82" width="14.20" height="6.80" fill="#c8c6cb"/>
<rect x="402.56" y="195.82" width="14.20" height="6.80" fill="#c8c6cb"/>
<rect x="418.22" y="195.82" width="14.20" height="6.80" fill="#c8c6cb"/>
<rect x="433.88" y="195.82" width="14.20" height="6.80" fill="#c8c6cb"/>
<rect x="449.54" y="195.82" width="14.20" height="6.80" fill="#c8c6cb"/>
<text x="70.20" y="201.92" font-size="6.75" text-anchor="end" fill="#222" font-style="italic" class="lb" >APC</text>
<rect x="73.70" y="203.69" width="14.20" height="6.80" fill="#c8c6cb"/>
<rect x="89.36" y="203.69" width="14.20" height="6.80" fill="#c8c6cb"/>
<rect x="105.02" y="203.69" width="14.20" height="6.80" fill="#c8c6cb"/>
<rect x="120.68" y="203.69" width="14.20" height="6.80" fill="#c8c6cb"/>
<rect x="136.34" y="203.69" width="14.20" height="6.80" fill="#c8c6cb"/>
<rect x="152.00" y="203.69" width="14.20" height="6.80" fill="#c8c6cb"/>
<rect x="167.66" y="203.69" width="14.20" height="6.80" fill="#0f4682"/>
<rect x="183.32" y="203.69" width="14.20" height="6.80" fill="#c8c6cb"/>
<rect x="198.98" y="203.69" width="14.20" height="6.80" fill="#c8c6cb"/>
<rect x="214.64" y="203.69" width="14.20" height="6.80" fill="#c8c6cb"/>
<rect x="230.30" y="203.69" width="14.20" height="6.80" fill="#c8c6cb"/>
<rect x="245.96" y="203.69" width="14.20" height="6.80" fill="#c8c6cb"/>
<rect x="261.62" y="203.69" width="14.20" height="6.80" fill="#c8c6cb"/>
<rect x="277.28" y="203.69" width="14.20" height="6.80" fill="#c8c6cb"/>
<rect x="292.94" y="203.69" width="14.20" height="6.80" fill="#c8c6cb"/>
<rect x="308.60" y="203.69" width="14.20" height="6.80" fill="#c8c6cb"/>
<rect x="324.26" y="203.69" width="14.20" height="6.80" fill="#c8c6cb"/>
<rect x="339.92" y="203.69" width="14.20" height="6.80" fill="#c8c6cb"/>
<rect x="355.58" y="203.69" width="14.20" height="6.80" fill="#c8c6cb"/>
<rect x="371.24" y="203.69" width="14.20" height="6.80" fill="#c8c6cb"/>
<rect x="386.90" y="203.69" width="14.20" height="6.80" fill="#0f4682"/>
<rect x="402.56" y="203.69" width="14.20" height="6.80" fill="#c8c6cb"/>
<rect x="418.22" y="203.69" width="14.20" height="6.80" fill="#c8c6cb"/>
<rect x="433.88" y="203.69" width="14.20" height="6.80" fill="#c8c6cb"/>
<rect x="449.54" y="203.69" width="14.20" height="6.80" fill="#c8c6cb"/>
<text x="70.20" y="209.79" font-size="6.75" text-anchor="end" fill="#222" font-style="italic" class="lb" >BCL6</text>
<rect x="73.70" y="211.56" width="14.20" height="6.80" fill="#c8c6cb"/>
<rect x="89.36" y="211.56" width="14.20" height="6.80" fill="#c8c6cb"/>
<rect x="105.02" y="211.56" width="14.20" height="6.80" fill="#c8c6cb"/>
<rect x="120.68" y="211.56" width="14.20" height="6.80" fill="#c8c6cb"/>
<rect x="136.34" y="211.56" width="14.20" height="6.80" fill="#c8c6cb"/>
<rect x="152.00" y="211.56" width="14.20" height="6.80" fill="#c8c6cb"/>
<rect x="167.66" y="211.56" width="14.20" height="6.80" fill="#c8c6cb"/>
<rect x="183.32" y="211.56" width="14.20" height="6.80" fill="#c8c6cb"/>
<rect x="198.98" y="211.56" width="14.20" height="6.80" fill="#c8c6cb"/>
<rect x="214.64" y="211.56" width="14.20" height="6.80" fill="#c8c6cb"/>
<rect x="230.30" y="211.56" width="14.20" height="6.80" fill="#0f4682"/>
<rect x="245.96" y="211.56" width="14.20" height="6.80" fill="#c8c6cb"/>
<rect x="261.62" y="211.56" width="14.20" height="6.80" fill="#0f4682"/>
<rect x="277.28" y="211.56" width="14.20" height="6.80" fill="#c8c6cb"/>
<rect x="292.94" y="211.56" width="14.20" height="6.80" fill="#c8c6cb"/>
<rect x="308.60" y="211.56" width="14.20" height="6.80" fill="#c8c6cb"/>
<rect x="324.26" y="211.56" width="14.20" height="6.80" fill="#c8c6cb"/>
<rect x="339.92" y="211.56" width="14.20" height="6.80" fill="#c8c6cb"/>
<rect x="355.58" y="211.56" width="14.20" height="6.80" fill="#c8c6cb"/>
<rect x="371.24" y="211.56" width="14.20" height="6.80" fill="#c8c6cb"/>
<rect x="386.90" y="211.56" width="14.20" height="6.80" fill="#c8c6cb"/>
<rect x="402.56" y="211.56" width="14.20" height="6.80" fill="#c8c6cb"/>
<rect x="418.22" y="211.56" width="14.20" height="6.80" fill="#c8c6cb"/>
<rect x="433.88" y="211.56" width="14.20" height="6.80" fill="#c8c6cb"/>
<rect x="449.54" y="211.56" width="14.20" height="6.80" fill="#c8c6cb"/>
<text x="70.20" y="217.66" font-size="6.75" text-anchor="end" fill="#222" font-style="italic" class="lb" >BCOR</text>
<rect x="73.70" y="219.43" width="14.20" height="6.80" fill="#c8c6cb"/>
<rect x="89.36" y="219.43" width="14.20" height="6.80" fill="#c8c6cb"/>
<rect x="105.02" y="219.43" width="14.20" height="6.80" fill="#c8c6cb"/>
<rect x="120.68" y="219.43" width="14.20" height="6.80" fill="#c8c6cb"/>
<rect x="136.34" y="219.43" width="14.20" height="6.80" fill="#c8c6cb"/>
<rect x="152.00" y="219.43" width="14.20" height="6.80" fill="#c8c6cb"/>
<rect x="167.66" y="219.43" width="14.20" height="6.80" fill="#c8c6cb"/>
<rect x="183.32" y="219.43" width="14.20" height="6.80" fill="#c8c6cb"/>
<rect x="198.98" y="219.43" width="14.20" height="6.80" fill="#c8c6cb"/>
<rect x="214.64" y="219.43" width="14.20" height="6.80" fill="#c8c6cb"/>
<rect x="230.30" y="219.43" width="14.20" height="6.80" fill="#c8c6cb"/>
<rect x="245.96" y="219.43" width="14.20" height="6.80" fill="#c8c6cb"/>
<rect x="261.62" y="219.43" width="14.20" height="6.80" fill="#c8c6cb"/>
<rect x="277.28" y="219.43" width="14.20" height="6.80" fill="#c8c6cb"/>
<rect x="292.94" y="219.43" width="14.20" height="6.80" fill="#c8c6cb"/>
<rect x="308.60" y="219.43" width="14.20" height="6.80" fill="#c8c6cb"/>
<rect x="324.26" y="219.43" width="14.20" height="6.80" fill="#0f4682"/>
<rect x="339.92" y="219.43" width="14.20" height="6.80" fill="#c8c6cb"/>
<rect x="355.58" y="219.43" width="14.20" height="6.80" fill="#c8c6cb"/>
<rect x="371.24" y="219.43" width="14.20" height="6.80" fill="#c8c6cb"/>
<rect x="386.90" y="219.43" width="14.20" height="6.80" fill="#0f4682"/>
<rect x="402.56" y="219.43" width="14.20" height="6.80" fill="#c8c6cb"/>
<rect x="418.22" y="219.43" width="14.20" height="6.80" fill="#c8c6cb"/>
<rect x="433.88" y="219.43" width="14.20" height="6.80" fill="#c8c6cb"/>
<rect x="449.54" y="219.43" width="14.20" height="6.80" fill="#c8c6cb"/>
<text x="70.20" y="225.53" font-size="6.75" text-anchor="end" fill="#222" font-style="italic" class="lb" >CARD11</text>
<rect x="73.70" y="227.30" width="14.20" height="6.80" fill="#c8c6cb"/>
<rect x="89.36" y="227.30" width="14.20" height="6.80" fill="#c8c6cb"/>
<rect x="105.02" y="227.30" width="14.20" height="6.80" fill="#c8c6cb"/>
<rect x="120.68" y="227.30" width="14.20" height="6.80" fill="#c8c6cb"/>
<rect x="136.34" y="227.30" width="14.20" height="6.80" fill="#c8c6cb"/>
<rect x="152.00" y="227.30" width="14.20" height="6.80" fill="#c8c6cb"/>
<rect x="167.66" y="227.30" width="14.20" height="6.80" fill="#c8c6cb"/>
<rect x="183.32" y="227.30" width="14.20" height="6.80" fill="#c8c6cb"/>
<rect x="198.98" y="227.30" width="14.20" height="6.80" fill="#0f4682"/>
<rect x="214.64" y="227.30" width="14.20" height="6.80" fill="#c8c6cb"/>
<rect x="230.30" y="227.30" width="14.20" height="6.80" fill="#c8c6cb"/>
<rect x="245.96" y="227.30" width="14.20" height="6.80" fill="#c8c6cb"/>
<rect x="261.62" y="227.30" width="14.20" height="6.80" fill="#c8c6cb"/>
<rect x="277.28" y="227.30" width="14.20" height="6.80" fill="#c8c6cb"/>
<rect x="292.94" y="227.30" width="14.20" height="6.80" fill="#c8c6cb"/>
<rect x="308.60" y="227.30" width="14.20" height="6.80" fill="#c8c6cb"/>
<rect x="324.26" y="227.30" width="14.20" height="6.80" fill="#c8c6cb"/>
<rect x="339.92" y="227.30" width="14.20" height="6.80" fill="#c8c6cb"/>
<rect x="355.58" y="227.30" width="14.20" height="6.80" fill="#c8c6cb"/>
<rect x="371.24" y="227.30" width="14.20" height="6.80" fill="#c8c6cb"/>
<rect x="386.90" y="227.30" width="14.20" height="6.80" fill="#0f4682"/>
<rect x="402.56" y="227.30" width="14.20" height="6.80" fill="#c8c6cb"/>
<rect x="418.22" y="227.30" width="14.20" height="6.80" fill="#c8c6cb"/>
<rect x="433.88" y="227.30" width="14.20" height="6.80" fill="#c8c6cb"/>
<rect x="449.54" y="227.30" width="14.20" height="6.80" fill="#c8c6cb"/>
<text x="70.20" y="233.40" font-size="6.75" text-anchor="end" fill="#222" font-style="italic" class="lb" >CD70</text>
<rect x="73.70" y="235.17" width="14.20" height="6.80" fill="#c8c6cb"/>
<rect x="89.36" y="235.17" width="14.20" height="6.80" fill="#c8c6cb"/>
<rect x="105.02" y="235.17" width="14.20" height="6.80" fill="#c8c6cb"/>
<rect x="120.68" y="235.17" width="14.20" height="6.80" fill="#c8c6cb"/>
<rect x="136.34" y="235.17" width="14.20" height="6.80" fill="#c8c6cb"/>
<rect x="152.00" y="235.17" width="14.20" height="6.80" fill="#c8c6cb"/>
<rect x="167.66" y="235.17" width="14.20" height="6.80" fill="#c8c6cb"/>
<rect x="183.32" y="235.17" width="14.20" height="6.80" fill="#c8c6cb"/>
<rect x="198.98" y="235.17" width="14.20" height="6.80" fill="#c8c6cb"/>
<rect x="214.64" y="235.17" width="14.20" height="6.80" fill="#c8c6cb"/>
<rect x="230.30" y="235.17" width="14.20" height="6.80" fill="#c8c6cb"/>
<rect x="245.96" y="235.17" width="14.20" height="6.80" fill="#c8c6cb"/>
<rect x="261.62" y="235.17" width="14.20" height="6.80" fill="#c8c6cb"/>
<rect x="277.28" y="235.17" width="14.20" height="6.80" fill="#c8c6cb"/>
<rect x="292.94" y="235.17" width="14.20" height="6.80" fill="#c8c6cb"/>
<rect x="308.60" y="235.17" width="14.20" height="6.80" fill="#c8c6cb"/>
<rect x="324.26" y="235.17" width="14.20" height="6.80" fill="#0f4682"/>
<rect x="339.92" y="235.17" width="14.20" height="6.80" fill="#c8c6cb"/>
<rect x="355.58" y="235.17" width="14.20" height="6.80" fill="#c8c6cb"/>
<rect x="371.24" y="235.17" width="14.20" height="6.80" fill="#c8c6cb"/>
<rect x="386.90" y="235.17" width="14.20" height="6.80" fill="#0f4682"/>
<rect x="402.56" y="235.17" width="14.20" height="6.80" fill="#c8c6cb"/>
<rect x="418.22" y="235.17" width="14.20" height="6.80" fill="#c8c6cb"/>
<rect x="433.88" y="235.17" width="14.20" height="6.80" fill="#c8c6cb"/>
<rect x="449.54" y="235.17" width="14.20" height="6.80" fill="#c8c6cb"/>
<text x="70.20" y="241.27" font-size="6.75" text-anchor="end" fill="#222" font-style="italic" class="lb" >FAS</text>
<rect x="73.70" y="243.04" width="14.20" height="6.80" fill="#c8c6cb"/>
<rect x="89.36" y="243.04" width="14.20" height="6.80" fill="#c8c6cb"/>
<rect x="105.02" y="243.04" width="14.20" height="6.80" fill="#c8c6cb"/>
<rect x="120.68" y="243.04" width="14.20" height="6.80" fill="#0f4682"/>
<rect x="136.34" y="243.04" width="14.20" height="6.80" fill="#0f4682"/>
<rect x="152.00" y="243.04" width="14.20" height="6.80" fill="#c8c6cb"/>
<rect x="167.66" y="243.04" width="14.20" height="6.80" fill="#c8c6cb"/>
<rect x="183.32" y="243.04" width="14.20" height="6.80" fill="#c8c6cb"/>
<rect x="198.98" y="243.04" width="14.20" height="6.80" fill="#c8c6cb"/>
<rect x="214.64" y="243.04" width="14.20" height="6.80" fill="#c8c6cb"/>
<rect x="230.30" y="243.04" width="14.20" height="6.80" fill="#c8c6cb"/>
<rect x="245.96" y="243.04" width="14.20" height="6.80" fill="#c8c6cb"/>
<rect x="261.62" y="243.04" width="14.20" height="6.80" fill="#c8c6cb"/>
<rect x="277.28" y="243.04" width="14.20" height="6.80" fill="#c8c6cb"/>
<rect x="292.94" y="243.04" width="14.20" height="6.80" fill="#c8c6cb"/>
<rect x="308.60" y="243.04" width="14.20" height="6.80" fill="#c8c6cb"/>
<rect x="324.26" y="243.04" width="14.20" height="6.80" fill="#c8c6cb"/>
<rect x="339.92" y="243.04" width="14.20" height="6.80" fill="#c8c6cb"/>
<rect x="355.58" y="243.04" width="14.20" height="6.80" fill="#c8c6cb"/>
<rect x="371.24" y="243.04" width="14.20" height="6.80" fill="#c8c6cb"/>
<rect x="386.90" y="243.04" width="14.20" height="6.80" fill="#c8c6cb"/>
<rect x="402.56" y="243.04" width="14.20" height="6.80" fill="#c8c6cb"/>
<rect x="418.22" y="243.04" width="14.20" height="6.80" fill="#c8c6cb"/>
<rect x="433.88" y="243.04" width="14.20" height="6.80" fill="#c8c6cb"/>
<rect x="449.54" y="243.04" width="14.20" height="6.80" fill="#c8c6cb"/>
<text x="70.20" y="249.14" font-size="6.75" text-anchor="end" fill="#222" font-style="italic" class="lb" >HIST1H3B</text>
<rect x="73.70" y="250.91" width="14.20" height="6.80" fill="#c8c6cb"/>
<rect x="89.36" y="250.91" width="14.20" height="6.80" fill="#c8c6cb"/>
<rect x="105.02" y="250.91" width="14.20" height="6.80" fill="#c8c6cb"/>
<rect x="120.68" y="250.91" width="14.20" height="6.80" fill="#c8c6cb"/>
<rect x="136.34" y="250.91" width="14.20" height="6.80" fill="#c8c6cb"/>
<rect x="152.00" y="250.91" width="14.20" height="6.80" fill="#c8c6cb"/>
<rect x="167.66" y="250.91" width="14.20" height="6.80" fill="#c8c6cb"/>
<rect x="183.32" y="250.91" width="14.20" height="6.80" fill="#c8c6cb"/>
<rect x="198.98" y="250.91" width="14.20" height="6.80" fill="#c8c6cb"/>
<rect x="214.64" y="250.91" width="14.20" height="6.80" fill="#c8c6cb"/>
<rect x="230.30" y="250.91" width="14.20" height="6.80" fill="#c8c6cb"/>
<rect x="245.96" y="250.91" width="14.20" height="6.80" fill="#c8c6cb"/>
<rect x="261.62" y="250.91" width="14.20" height="6.80" fill="#c8c6cb"/>
<rect x="277.28" y="250.91" width="14.20" height="6.80" fill="#c8c6cb"/>
<rect x="292.94" y="250.91" width="14.20" height="6.80" fill="#c8c6cb"/>
<rect x="308.60" y="250.91" width="14.20" height="6.80" fill="#c8c6cb"/>
<rect x="324.26" y="250.91" width="14.20" height="6.80" fill="#0f4682"/>
<rect x="339.92" y="250.91" width="14.20" height="6.80" fill="#c8c6cb"/>
<rect x="355.58" y="250.91" width="14.20" height="6.80" fill="#c8c6cb"/>
<rect x="371.24" y="250.91" width="14.20" height="6.80" fill="#c8c6cb"/>
<rect x="386.90" y="250.91" width="14.20" height="6.80" fill="#0f4682"/>
<rect x="402.56" y="250.91" width="14.20" height="6.80" fill="#c8c6cb"/>
<rect x="418.22" y="250.91" width="14.20" height="6.80" fill="#c8c6cb"/>
<rect x="433.88" y="250.91" width="14.20" height="6.80" fill="#c8c6cb"/>
<rect x="449.54" y="250.91" width="14.20" height="6.80" fill="#c8c6cb"/>
<text x="70.20" y="257.01" font-size="6.75" text-anchor="end" fill="#222" font-style="italic" class="lb" >IL16</text>
<rect x="73.70" y="258.78" width="14.20" height="6.80" fill="#c8c6cb"/>
<rect x="89.36" y="258.78" width="14.20" height="6.80" fill="#c8c6cb"/>
<rect x="105.02" y="258.78" width="14.20" height="6.80" fill="#c8c6cb"/>
<rect x="120.68" y="258.78" width="14.20" height="6.80" fill="#c8c6cb"/>
<rect x="136.34" y="258.78" width="14.20" height="6.80" fill="#c8c6cb"/>
<rect x="152.00" y="258.78" width="14.20" height="6.80" fill="#c8c6cb"/>
<rect x="167.66" y="258.78" width="14.20" height="6.80" fill="#c8c6cb"/>
<rect x="183.32" y="258.78" width="14.20" height="6.80" fill="#c8c6cb"/>
<rect x="198.98" y="258.78" width="14.20" height="6.80" fill="#c8c6cb"/>
<rect x="214.64" y="258.78" width="14.20" height="6.80" fill="#c8c6cb"/>
<rect x="230.30" y="258.78" width="14.20" height="6.80" fill="#c8c6cb"/>
<rect x="245.96" y="258.78" width="14.20" height="6.80" fill="#c8c6cb"/>
<rect x="261.62" y="258.78" width="14.20" height="6.80" fill="#c8c6cb"/>
<rect x="277.28" y="258.78" width="14.20" height="6.80" fill="#c8c6cb"/>
<rect x="292.94" y="258.78" width="14.20" height="6.80" fill="#c8c6cb"/>
<rect x="308.60" y="258.78" width="14.20" height="6.80" fill="#c8c6cb"/>
<rect x="324.26" y="258.78" width="14.20" height="6.80" fill="#c8c6cb"/>
<rect x="339.92" y="258.78" width="14.20" height="6.80" fill="#c8c6cb"/>
<rect x="355.58" y="258.78" width="14.20" height="6.80" fill="#0f4682"/>
<rect x="371.24" y="258.78" width="14.20" height="6.80" fill="#c8c6cb"/>
<rect x="386.90" y="258.78" width="14.20" height="6.80" fill="#0f4682"/>
<rect x="402.56" y="258.78" width="14.20" height="6.80" fill="#c8c6cb"/>
<rect x="418.22" y="258.78" width="14.20" height="6.80" fill="#c8c6cb"/>
<rect x="433.88" y="258.78" width="14.20" height="6.80" fill="#c8c6cb"/>
<rect x="449.54" y="258.78" width="14.20" height="6.80" fill="#c8c6cb"/>
<text x="70.20" y="264.88" font-size="6.75" text-anchor="end" fill="#222" font-style="italic" class="lb" >TP73</text>
<rect x="73.70" y="269.00" width="14.20" height="7.00" fill="#c2671a"/>
<rect x="89.36" y="269.00" width="14.20" height="7.00" fill="#c2671a"/>
<rect x="105.02" y="269.00" width="14.20" height="7.00" fill="#c2671a"/>
<rect x="120.68" y="269.00" width="14.20" height="7.00" fill="#c2671a"/>
<rect x="136.34" y="269.00" width="14.20" height="7.00" fill="#c2671a"/>
<rect x="152.00" y="269.00" width="14.20" height="7.00" fill="#c2671a"/>
<rect x="167.66" y="269.00" width="14.20" height="7.00" fill="#c2671a"/>
<rect x="183.32" y="269.00" width="14.20" height="7.00" fill="#c2671a"/>
<rect x="198.98" y="269.00" width="14.20" height="7.00" fill="#c2671a"/>
<rect x="214.64" y="269.00" width="14.20" height="7.00" fill="#c2671a"/>
<rect x="230.30" y="269.00" width="14.20" height="7.00" fill="#c2671a"/>
<rect x="245.96" y="269.00" width="14.20" height="7.00" fill="#c2671a"/>
<rect x="261.62" y="269.00" width="14.20" height="7.00" fill="#c2671a"/>
<rect x="277.28" y="269.00" width="14.20" height="7.00" fill="#c2671a"/>
<rect x="292.94" y="269.00" width="14.20" height="7.00" fill="#c2671a"/>
<rect x="308.60" y="269.00" width="14.20" height="7.00" fill="#c2671a"/>
<rect x="324.26" y="269.00" width="14.20" height="7.00" fill="#c6c6c6"/>
<rect x="339.92" y="269.00" width="14.20" height="7.00" fill="#c2671a"/>
<rect x="355.58" y="269.00" width="14.20" height="7.00" fill="#c2671a"/>
<rect x="371.24" y="269.00" width="14.20" height="7.00" fill="#c2671a"/>
<rect x="386.90" y="269.00" width="14.20" height="7.00" fill="#c2671a"/>
<rect x="402.56" y="269.00" width="14.20" height="7.00" fill="#c2671a"/>
<rect x="418.22" y="269.00" width="14.20" height="7.00" fill="#c6c6c6"/>
<rect x="433.88" y="269.00" width="14.20" height="7.00" fill="#c2671a"/>
<rect x="449.54" y="269.00" width="14.20" height="7.00" fill="#c2671a"/>
<rect x="73.70" y="277.00" width="14.20" height="7.00" fill="#f9c88f"/>
<rect x="89.36" y="277.00" width="14.20" height="7.00" fill="#f9c88f"/>
<rect x="105.02" y="277.00" width="14.20" height="7.00" fill="#f9c88f"/>
<rect x="120.68" y="277.00" width="14.20" height="7.00" fill="#f9c88f"/>
<rect x="152.00" y="277.00" width="14.20" height="7.00" fill="#f9c88f"/>
<rect x="167.66" y="277.00" width="14.20" height="7.00" fill="#f9c88f"/>
<rect x="183.32" y="277.00" width="14.20" height="7.00" fill="#5c300e"/>
<rect x="198.98" y="277.00" width="14.20" height="7.00" fill="#c2671a"/>
<rect x="214.64" y="277.00" width="14.20" height="7.00" fill="#5c300e"/>
<rect x="230.30" y="277.00" width="14.20" height="7.00" fill="#5c300e"/>
<rect x="261.62" y="277.00" width="14.20" height="7.00" fill="#5c300e"/>
<rect x="277.28" y="277.00" width="14.20" height="7.00" fill="#c2671a"/>
<rect x="292.94" y="277.00" width="14.20" height="7.00" fill="#c2671a"/>
<rect x="308.60" y="277.00" width="14.20" height="7.00" fill="#5c300e"/>
<rect x="339.92" y="277.00" width="14.20" height="7.00" fill="#5c300e"/>
<rect x="355.58" y="277.00" width="14.20" height="7.00" fill="#5c300e"/>
<rect x="371.24" y="277.00" width="14.20" height="7.00" fill="#5c300e"/>
<rect x="386.90" y="277.00" width="14.20" height="7.00" fill="#c2671a"/>
<rect x="402.56" y="277.00" width="14.20" height="7.00" fill="#c2671a"/>
<rect x="433.88" y="277.00" width="14.20" height="7.00" fill="#5c300e"/>
<rect x="449.54" y="277.00" width="14.20" height="7.00" fill="#5c300e"/>
<rect x="73.70" y="285.00" width="14.20" height="7.00" fill="#5c300e"/>
<rect x="89.36" y="285.00" width="14.20" height="7.00" fill="#5c300e"/>
<rect x="105.02" y="285.00" width="14.20" height="7.00" fill="#5c300e"/>
<rect x="120.68" y="285.00" width="14.20" height="7.00" fill="#5c300e"/>
<rect x="136.34" y="285.00" width="14.20" height="7.00" fill="#5c300e"/>
<rect x="152.00" y="285.00" width="14.20" height="7.00" fill="#5c300e"/>
<rect x="167.66" y="285.00" width="14.20" height="7.00" fill="#5c300e"/>
<rect x="183.32" y="285.00" width="14.20" height="7.00" fill="#f9c88f"/>
<rect x="198.98" y="285.00" width="14.20" height="7.00" fill="#c2671a"/>
<rect x="214.64" y="285.00" width="14.20" height="7.00" fill="#c2671a"/>
<rect x="230.30" y="285.00" width="14.20" height="7.00" fill="#c6c6c6"/>
<rect x="245.96" y="285.00" width="14.20" height="7.00" fill="#f9c88f"/>
<rect x="261.62" y="285.00" width="14.20" height="7.00" fill="#f9c88f"/>
<rect x="277.28" y="285.00" width="14.20" height="7.00" fill="#f9c88f"/>
<rect x="292.94" y="285.00" width="14.20" height="7.00" fill="#f9c88f"/>
<rect x="308.60" y="285.00" width="14.20" height="7.00" fill="#f9c88f"/>
<rect x="324.26" y="285.00" width="14.20" height="7.00" fill="#5c300e"/>
<rect x="339.92" y="285.00" width="14.20" height="7.00" fill="#5c300e"/>
<rect x="355.58" y="285.00" width="14.20" height="7.00" fill="#f9c88f"/>
<rect x="371.24" y="285.00" width="14.20" height="7.00" fill="#5c300e"/>
<rect x="386.90" y="285.00" width="14.20" height="7.00" fill="#5c300e"/>
<rect x="402.56" y="285.00" width="14.20" height="7.00" fill="#c2671a"/>
<rect x="418.22" y="285.00" width="14.20" height="7.00" fill="#5c300e"/>
<rect x="433.88" y="285.00" width="14.20" height="7.00" fill="#c6c6c6"/>
<rect x="449.54" y="285.00" width="14.20" height="7.00" fill="#f9c88f"/>
<text x="70.00" y="274.90" font-size="6.9" text-anchor="end" fill="#222" textLength="12.30" lengthAdjust="spacingAndGlyphs" class="lb" >EBV</text>
<text x="70.00" y="282.90" font-size="6.9" text-anchor="end" fill="#222" textLength="62.30" lengthAdjust="spacingAndGlyphs" class="lb" >EBV latency pattern</text>
<text x="70.00" y="290.90" font-size="6.9" text-anchor="end" fill="#222" textLength="29.70" lengthAdjust="spacingAndGlyphs" class="lb" >Outcome</text>
<text transform="translate(83.00,296.6) rotate(-90)" font-size="7.0" text-anchor="end" fill="#333" textLength="10.8" lengthAdjust="spacingAndGlyphs">p11</text>
<text transform="translate(98.66,296.6) rotate(-90)" font-size="7.0" text-anchor="end" fill="#333" textLength="10.8" lengthAdjust="spacingAndGlyphs">p15</text>
<text transform="translate(114.32,296.6) rotate(-90)" font-size="7.0" text-anchor="end" fill="#333" textLength="10.8" lengthAdjust="spacingAndGlyphs">p22</text>
<text transform="translate(129.98,296.6) rotate(-90)" font-size="7.0" text-anchor="end" fill="#333" textLength="10.8" lengthAdjust="spacingAndGlyphs">p28</text>
<text transform="translate(145.64,296.6) rotate(-90)" font-size="7.0" text-anchor="end" fill="#333" textLength="10.8" lengthAdjust="spacingAndGlyphs">p29</text>
<text transform="translate(161.30,296.6) rotate(-90)" font-size="7.0" text-anchor="end" fill="#333" textLength="10.8" lengthAdjust="spacingAndGlyphs">p38</text>
<text transform="translate(176.96,296.6) rotate(-90)" font-size="7.0" text-anchor="end" fill="#333" textLength="10.8" lengthAdjust="spacingAndGlyphs">p42</text>
<text transform="translate(192.62,296.6) rotate(-90)" font-size="7.0" text-anchor="end" fill="#333" textLength="10.8" lengthAdjust="spacingAndGlyphs">p10</text>
<text transform="translate(208.28,296.6) rotate(-90)" font-size="7.0" text-anchor="end" fill="#333" textLength="10.8" lengthAdjust="spacingAndGlyphs">p12</text>
<text transform="translate(223.94,296.6) rotate(-90)" font-size="7.0" text-anchor="end" fill="#333" textLength="10.8" lengthAdjust="spacingAndGlyphs">p13</text>
<text transform="translate(239.60,296.6) rotate(-90)" font-size="7.0" text-anchor="end" fill="#333" textLength="10.8" lengthAdjust="spacingAndGlyphs">p14</text>
<text transform="translate(255.26,296.6) rotate(-90)" font-size="7.0" text-anchor="end" fill="#333" textLength="10.8" lengthAdjust="spacingAndGlyphs">p17</text>
<text transform="translate(270.92,296.6) rotate(-90)" font-size="7.0" text-anchor="end" fill="#333" textLength="10.8" lengthAdjust="spacingAndGlyphs">p20</text>
<text transform="translate(286.58,296.6) rotate(-90)" font-size="7.0" text-anchor="end" fill="#333" textLength="10.8" lengthAdjust="spacingAndGlyphs">p21</text>
<text transform="translate(302.24,296.6) rotate(-90)" font-size="7.0" text-anchor="end" fill="#333" textLength="10.8" lengthAdjust="spacingAndGlyphs">p25</text>
<text transform="translate(317.90,296.6) rotate(-90)" font-size="7.0" text-anchor="end" fill="#333" textLength="10.8" lengthAdjust="spacingAndGlyphs">p26</text>
<text transform="translate(333.56,296.6) rotate(-90)" font-size="7.0" text-anchor="end" fill="#333" textLength="10.8" lengthAdjust="spacingAndGlyphs">p27</text>
<text transform="translate(349.22,296.6) rotate(-90)" font-size="7.0" text-anchor="end" fill="#333" textLength="10.8" lengthAdjust="spacingAndGlyphs">p31</text>
<text transform="translate(364.88,296.6) rotate(-90)" font-size="7.0" text-anchor="end" fill="#333" textLength="10.8" lengthAdjust="spacingAndGlyphs">p32</text>
<text transform="translate(380.54,296.6) rotate(-90)" font-size="7.0" text-anchor="end" fill="#333" textLength="10.8" lengthAdjust="spacingAndGlyphs">p33</text>
<text transform="translate(396.20,296.6) rotate(-90)" font-size="7.0" text-anchor="end" fill="#333" textLength="10.8" lengthAdjust="spacingAndGlyphs">p35</text>
<text transform="translate(411.86,296.6) rotate(-90)" font-size="7.0" text-anchor="end" fill="#333" textLength="10.8" lengthAdjust="spacingAndGlyphs">p36</text>
<text transform="translate(427.52,296.6) rotate(-90)" font-size="7.0" text-anchor="end" fill="#333" textLength="10.8" lengthAdjust="spacingAndGlyphs">p37</text>
<text transform="translate(443.18,296.6) rotate(-90)" font-size="7.0" text-anchor="end" fill="#333" textLength="10.8" lengthAdjust="spacingAndGlyphs">p39</text>
<text transform="translate(458.84,296.6) rotate(-90)" font-size="7.0" text-anchor="end" fill="#333" textLength="10.8" lengthAdjust="spacingAndGlyphs">p43</text>
<rect x="468.60" y="75.83" width="9.30" height="4.20" fill="#319f36"/>
<rect x="477.90" y="75.83" width="30.60" height="4.20" fill="#2ba8df"/>
<rect x="468.60" y="83.60" width="11.80" height="4.20" fill="#f8b204"/>
<rect x="480.40" y="83.60" width="24.80" height="4.20" fill="#2ba8df"/>
<rect x="468.60" y="91.39" width="4.30" height="4.20" fill="#db1274"/>
<rect x="472.90" y="91.39" width="12.80" height="4.20" fill="#f8b204"/>
<rect x="485.70" y="91.39" width="19.50" height="4.20" fill="#2ba8df"/>
<rect x="468.60" y="102.98" width="10.60" height="4.20" fill="#0f4682"/>
<rect x="479.20" y="102.98" width="27.70" height="4.20" fill="#c8c6cb"/>
<rect x="468.60" y="110.85" width="10.60" height="4.20" fill="#0f4682"/>
<rect x="479.20" y="110.85" width="29.30" height="4.20" fill="#c8c6cb"/>
<rect x="468.60" y="118.72" width="5.90" height="4.20" fill="#0f4682"/>
<rect x="474.50" y="118.72" width="34.00" height="4.20" fill="#c8c6cb"/>
<rect x="468.60" y="126.59" width="5.90" height="4.20" fill="#0f4682"/>
<rect x="474.50" y="126.59" width="34.00" height="4.20" fill="#c8c6cb"/>
<rect x="468.60" y="134.46" width="3.90" height="4.20" fill="#0f4682"/>
<rect x="472.50" y="134.46" width="36.00" height="4.20" fill="#c8c6cb"/>
<rect x="468.60" y="142.33" width="3.90" height="4.20" fill="#0f4682"/>
<rect x="472.50" y="142.33" width="36.00" height="4.20" fill="#c8c6cb"/>
<rect x="468.60" y="150.20" width="2.50" height="4.20" fill="#0f4682"/>
<rect x="471.10" y="150.20" width="37.40" height="4.20" fill="#c8c6cb"/>
<rect x="468.60" y="158.07" width="2.50" height="4.20" fill="#0f4682"/>
<rect x="471.10" y="158.07" width="37.40" height="4.20" fill="#c8c6cb"/>
<rect x="468.60" y="165.94" width="3.90" height="4.20" fill="#0f4682"/>
<rect x="472.50" y="165.94" width="36.00" height="4.20" fill="#c8c6cb"/>
<rect x="468.60" y="173.81" width="3.90" height="4.20" fill="#0f4682"/>
<rect x="472.50" y="173.81" width="36.00" height="4.20" fill="#c8c6cb"/>
<rect x="468.60" y="181.68" width="4.20" height="4.20" fill="#0f4682"/>
<rect x="472.80" y="181.68" width="35.70" height="4.20" fill="#c8c6cb"/>
<rect x="468.60" y="189.55" width="2.60" height="4.20" fill="#0f4682"/>
<rect x="471.20" y="189.55" width="37.30" height="4.20" fill="#c8c6cb"/>
<rect x="468.60" y="197.42" width="2.60" height="4.20" fill="#0f4682"/>
<rect x="471.20" y="197.42" width="37.30" height="4.20" fill="#c8c6cb"/>
<rect x="468.60" y="205.29" width="2.60" height="4.20" fill="#0f4682"/>
<rect x="471.20" y="205.29" width="37.30" height="4.20" fill="#c8c6cb"/>
<rect x="468.60" y="213.16" width="2.60" height="4.20" fill="#0f4682"/>
<rect x="471.20" y="213.16" width="37.30" height="4.20" fill="#c8c6cb"/>
<rect x="468.60" y="221.03" width="2.60" height="4.20" fill="#0f4682"/>
<rect x="471.20" y="221.03" width="37.30" height="4.20" fill="#c8c6cb"/>
<rect x="468.60" y="228.90" width="2.60" height="4.20" fill="#0f4682"/>
<rect x="471.20" y="228.90" width="37.30" height="4.20" fill="#c8c6cb"/>
<rect x="468.60" y="236.77" width="2.60" height="4.20" fill="#0f4682"/>
<rect x="471.20" y="236.77" width="37.30" height="4.20" fill="#c8c6cb"/>
<rect x="468.60" y="244.64" width="2.60" height="4.20" fill="#0f4682"/>
<rect x="471.20" y="244.64" width="37.30" height="4.20" fill="#c8c6cb"/>
<rect x="468.60" y="252.51" width="2.60" height="4.20" fill="#0f4682"/>
<rect x="471.20" y="252.51" width="37.30" height="4.20" fill="#c8c6cb"/>
<rect x="468.60" y="260.38" width="2.60" height="4.20" fill="#0f4682"/>
<rect x="471.20" y="260.38" width="37.30" height="4.20" fill="#c8c6cb"/>
<rect x="468.60" y="270.40" width="37.00" height="4.20" fill="#c2671a"/>
<rect x="505.60" y="270.40" width="2.90" height="4.20" fill="#c6c6c6"/>
<rect x="468.60" y="278.40" width="14.70" height="4.20" fill="#5c300e"/>
<rect x="483.30" y="278.40" width="8.40" height="4.20" fill="#c2671a"/>
<rect x="491.70" y="278.40" width="8.30" height="4.20" fill="#f9c88f"/>
<rect x="469.90" y="286.30" width="1.80" height="4.20" fill="#c6c6c6"/>
<rect x="471.70" y="286.30" width="4.70" height="4.20" fill="#c2671a"/>
<rect x="476.40" y="286.30" width="18.60" height="4.20" fill="#5c300e"/>
<rect x="495.00" y="286.30" width="13.50" height="4.20" fill="#f9c88f"/>
<g stroke="#222" stroke-width="1.0" fill="none">
<line x1="468.4" y1="73.4" x2="468.4" y2="296.0"/>
<line x1="468.4" y1="295.6" x2="508.6" y2="295.6"/>
<line x1="468.4" y1="295.6" x2="468.4" y2="298.8"/>
<line x1="488.5" y1="295.6" x2="488.5" y2="298.8"/>
<line x1="508.5" y1="295.6" x2="508.5" y2="298.8"/>
</g>
<text x="468.60" y="308.70" font-size="8.0" text-anchor="middle" fill="#333" textLength="3.20" lengthAdjust="spacingAndGlyphs"  >0</text>
<text x="488.60" y="308.70" font-size="8.0" text-anchor="middle" fill="#333" textLength="6.80" lengthAdjust="spacingAndGlyphs"  >13</text>
<text x="508.60" y="308.70" font-size="8.0" text-anchor="middle" fill="#333" textLength="7.40" lengthAdjust="spacingAndGlyphs"  >25</text>
<text x="466.30" y="320.50" font-size="8.3" text-anchor="start" fill="#333" textLength="44.30" lengthAdjust="spacingAndGlyphs"  >Frequency (n)</text>
<text x="73.80" y="321.90" font-size="6.6" text-anchor="start" fill="#2b2b2b" textLength="48.40" lengthAdjust="spacingAndGlyphs"  >Top histograms</text>
<text x="143.80" y="321.90" font-size="6.6" text-anchor="start" fill="#2b2b2b" textLength="39.00" lengthAdjust="spacingAndGlyphs"  >Morphology</text>
<text x="191.80" y="321.90" font-size="6.6" text-anchor="start" fill="#2b2b2b" textLength="38.40" lengthAdjust="spacingAndGlyphs"  >COO - Hans</text>
<text x="272.80" y="321.90" font-size="6.6" text-anchor="start" fill="#2b2b2b" textLength="57.70" lengthAdjust="spacingAndGlyphs"  >COO - Lymph2CX</text>
<text x="370.40" y="321.90" font-size="6.6" text-anchor="start" fill="#2b2b2b"  >*</text>
<text x="375.00" y="321.90" font-size="6.6" text-anchor="start" fill="#2b2b2b" textLength="85.00" lengthAdjust="spacingAndGlyphs"  >Multiple intronic mutations</text>
<text x="375.40" y="331.00" font-size="6.6" text-anchor="start" fill="#2b2b2b" textLength="53.80" lengthAdjust="spacingAndGlyphs"  >only (&gt;3 variants)</text>
<rect x="74.00" y="328.50" width="5.40" height="4.90" fill="#cfcfcf"/>
<text x="83.10" y="333.20" font-size="6.6" text-anchor="start" fill="#2b2b2b" textLength="51.40" lengthAdjust="spacingAndGlyphs"  >Number of CNA</text>
<rect x="74.00" y="338.20" width="5.40" height="4.90" fill="#444f63"/>
<text x="83.10" y="343.00" font-size="6.6" text-anchor="start" fill="#2b2b2b" textLength="36.50" lengthAdjust="spacingAndGlyphs"  >Number of</text>
<text x="83.10" y="352.00" font-size="6.6" text-anchor="start" fill="#2b2b2b" textLength="51.40" lengthAdjust="spacingAndGlyphs"  >driver mutations</text>
<rect x="144.30" y="328.50" width="5.40" height="4.90" fill="#2ba8df"/>
<text x="153.10" y="333.20" font-size="6.6" text-anchor="start" fill="#2b2b2b" textLength="21.50" lengthAdjust="spacingAndGlyphs"  >DLBCL</text>
<rect x="144.30" y="338.10" width="5.40" height="4.90" fill="#319f36"/>
<text x="153.10" y="342.80" font-size="6.6" text-anchor="start" fill="#2b2b2b" textLength="7.70" lengthAdjust="spacingAndGlyphs"  >BL</text>
<rect x="192.20" y="328.50" width="5.40" height="4.90" fill="#f8b204"/>
<text x="201.00" y="333.20" font-size="6.6" text-anchor="start" fill="#2b2b2b" textLength="47.00" lengthAdjust="spacingAndGlyphs"  >GC phenotype</text>
<rect x="192.20" y="338.10" width="5.40" height="4.90" fill="#2ba8df"/>
<text x="201.00" y="342.80" font-size="6.6" text-anchor="start" fill="#2b2b2b" textLength="62.90" lengthAdjust="spacingAndGlyphs"  >Non-GC phenotype</text>
<rect x="273.20" y="328.50" width="5.40" height="4.90" fill="#f8b204"/>
<text x="282.40" y="333.20" font-size="6.6" text-anchor="start" fill="#2b2b2b" textLength="14.40" lengthAdjust="spacingAndGlyphs"  >GCB</text>
<rect x="273.20" y="338.10" width="5.40" height="4.90" fill="#2ba8df"/>
<text x="282.40" y="342.80" font-size="6.6" text-anchor="start" fill="#2b2b2b" textLength="13.50" lengthAdjust="spacingAndGlyphs"  >ABC</text>
<rect x="273.20" y="347.80" width="5.40" height="4.90" fill="#db1274"/>
<text x="282.40" y="352.50" font-size="6.6" text-anchor="start" fill="#2b2b2b" textLength="79.80" lengthAdjust="spacingAndGlyphs"  >Intermediate/unclassified</text>
<text x="74.00" y="366.00" font-size="6.6" text-anchor="start" fill="#2b2b2b" textLength="12.10" lengthAdjust="spacingAndGlyphs"  >EBV</text>
<text x="131.50" y="366.00" font-size="6.6" text-anchor="start" fill="#2b2b2b" textLength="62.50" lengthAdjust="spacingAndGlyphs"  >EBV latency pattern</text>
<text x="215.20" y="366.00" font-size="6.6" text-anchor="start" fill="#2b2b2b" textLength="30.00" lengthAdjust="spacingAndGlyphs"  >Outcome</text>
<rect x="74.00" y="372.20" width="5.40" height="4.90" fill="#c6c6c6"/>
<text x="83.30" y="377.00" font-size="6.6" text-anchor="start" fill="#2b2b2b" textLength="28.20" lengthAdjust="spacingAndGlyphs"  >Negative</text>
<rect x="74.00" y="381.80" width="5.40" height="4.90" fill="#c2671a"/>
<text x="83.30" y="386.60" font-size="6.6" text-anchor="start" fill="#2b2b2b" textLength="25.00" lengthAdjust="spacingAndGlyphs"  >Positive</text>
<rect x="131.40" y="372.30" width="5.40" height="4.90" fill="#f9c88f"/>
<text x="140.60" y="377.10" font-size="6.6" text-anchor="start" fill="#2b2b2b" textLength="53.40" lengthAdjust="spacingAndGlyphs"  >Latency pattern I</text>
<rect x="131.40" y="382.10" width="5.40" height="4.90" fill="#c2671a"/>
<text x="140.60" y="386.90" font-size="6.6" text-anchor="start" fill="#2b2b2b" textLength="55.00" lengthAdjust="spacingAndGlyphs"  >Latency pattern II</text>
<rect x="131.40" y="391.90" width="5.40" height="4.90" fill="#5c300e"/>
<text x="140.60" y="396.70" font-size="6.6" text-anchor="start" fill="#2b2b2b" textLength="56.70" lengthAdjust="spacingAndGlyphs"  >Latency pattern III</text>
<rect x="215.60" y="372.20" width="5.40" height="4.90" fill="#f9c88f"/>
<text x="224.40" y="377.00" font-size="6.6" text-anchor="start" fill="#2b2b2b" textLength="123.40" lengthAdjust="spacingAndGlyphs"  >Cured with RIS, rituximab and/or LDCT</text>
<rect x="215.60" y="382.10" width="5.40" height="4.90" fill="#5c300e"/>
<text x="224.40" y="386.70" font-size="6.6" text-anchor="start" fill="#2b2b2b" textLength="72.10" lengthAdjust="spacingAndGlyphs"  >Cured with SOC-BNHL</text>
<rect x="215.60" y="391.90" width="5.40" height="4.90" fill="#c2671a"/>
<text x="224.40" y="396.80" font-size="6.6" text-anchor="start" fill="#2b2b2b" textLength="46.60" lengthAdjust="spacingAndGlyphs"  >Dead by PTLD</text>
<rect x="215.60" y="401.60" width="5.40" height="4.90" fill="#c6c6c6"/>
<text x="224.40" y="406.40" font-size="6.6" text-anchor="start" fill="#2b2b2b" textLength="70.60" lengthAdjust="spacingAndGlyphs"  >Died from other cause</text>
</svg>
</body></html>
